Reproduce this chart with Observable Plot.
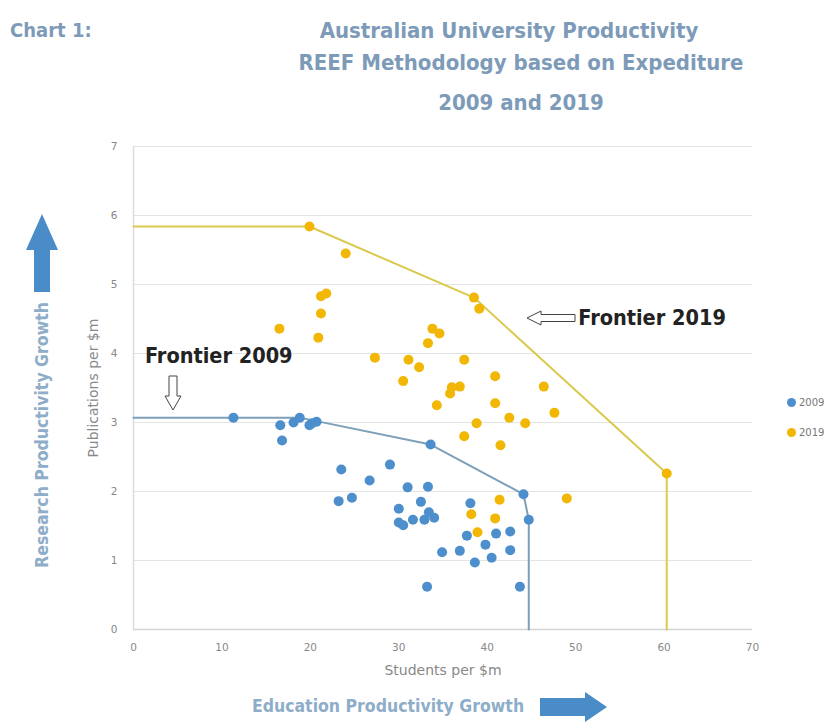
<!DOCTYPE html>
<html>
<head>
<meta charset="utf-8">
<script src="https://cdn.jsdelivr.net/npm/d3@7"></script>
<script src="https://cdn.jsdelivr.net/npm/@observablehq/plot@0.6"></script>
<style>
  html, body { margin: 0; padding: 0; background: #fff; }
  #wrap { position: relative; width: 824px; height: 722px; overflow: hidden; font-family: "DejaVu Sans Condensed", "DejaVu Sans", sans-serif; }
  #chart { position: absolute; left: 0; top: 0; }
  .t { position: absolute; font-weight: bold; color: #7d9bb8; white-space: nowrap; }
  .leg { position: absolute; font-family: "DejaVu Sans", sans-serif; font-size: 10px; color: #777; white-space: nowrap; }
  .leg span { display: inline-block; width: 9px; height: 9px; border-radius: 50%; margin-right: 3px; vertical-align: -1px; }
  svg.deco { position: absolute; overflow: visible; }
</style>
</head>
<body>
<div id="wrap">
  <div id="chart"></div>
  <div class="t" style="left:10px; top:18px; font-size:20px;">Chart 1:</div>
  <div class="t" style="left:509px; top:30px; font-size:22px; transform: translate(-50%,-50%);">Australian University Productivity</div>
  <div class="t" style="left:521px; top:62px; font-size:22px; transform: translate(-50%,-50%);">REEF Methodology based on Expediture</div>
  <div class="t" style="left:521px; top:102px; font-size:22px; transform: translate(-50%,-50%);">2009 and 2019</div>
  <div class="t" style="left:42px; top:435px; font-size:17.5px; color:#8eadc9; transform: translate(-50%,-50%) rotate(-90deg);">Research Productivity Growth</div>
  <div class="t" style="left:388px; top:706px; font-size:17.5px; color:#8eadc9; transform: translate(-50%,-50%);">Education Productivity Growth</div>
  <svg class="deco" style="left:0; top:0;" width="824" height="722">
    <polygon points="42,214 58,250 50,250 50,292 34,292 34,250 26,250" fill="#4a8cc8"/>
    <polygon points="607,707 585,692 585,698 540,698 540,716 585,716 585,722" fill="#4a8cc8"/>
    <polygon points="527,318 541,311 541,314.5 575,314.5 575,321.5 541,321.5 541,325" fill="#fff" stroke="#444" stroke-width="1"/>
    <polygon points="173,410 165,396 169,396 169,376 177,376 177,396 181,396" fill="#fff" stroke="#444" stroke-width="1"/>
  </svg>
  <div class="leg" style="left:787px; top:397px;"><span style="background:#4d8fcc"></span>2009</div>
  <div class="leg" style="left:787px; top:427px;"><span style="background:#f2b705"></span>2019</div>
</div>
<script>
// 2009 universities
const x09 = [11.3,16.6,16.8,18.1,18.8,19.9,20.2,20.7,23.5,26.7,23.2,24.7,29.0,31.0,33.3,30.0,32.5,30.0,30.5,31.6,32.9,33.4,34.0,33.2,33.6,38.1,37.7,39.8,41.0,42.6,42.6,34.9,36.9,38.6,40.5,43.7,44.1,44.7];
const y09 = [3.07,2.96,2.74,3.00,3.07,2.96,2.99,3.01,2.32,2.16,1.86,1.91,2.39,2.06,2.07,1.75,1.85,1.55,1.51,1.59,1.59,1.70,1.62,0.62,2.68,1.83,1.36,1.23,1.39,1.42,1.15,1.12,1.14,0.97,1.04,0.62,1.96,1.59];
// 2019 universities
const x19 = [19.9,24.0,16.5,21.2,21.8,21.2,20.9,27.3,31.1,32.3,33.3,33.8,34.6,38.5,39.1,37.4,30.5,36.0,36.9,35.8,40.9,34.3,40.9,46.4,42.5,44.3,47.6,38.8,37.4,41.5,60.3,49.0,41.4,38.2,40.9,38.9];
const y19 = [5.84,5.45,4.36,4.83,4.87,4.58,4.23,3.94,3.91,3.80,4.15,4.36,4.29,4.81,4.65,3.91,3.60,3.51,3.52,3.42,3.67,3.25,3.28,3.52,3.07,2.99,3.14,2.99,2.80,2.67,2.26,1.90,1.88,1.67,1.61,1.41];
// frontiers
const fx09 = [0,11.3,18.8,20.7,33.6,44.1,44.7,44.7];
const fy09 = [3.07,3.07,3.07,3.02,2.68,1.96,1.59,0];
const fx19 = [0,19.9,38.5,60.3,60.3];
const fy19 = [5.84,5.84,4.81,2.26,0];
// ticks
const xTicks = [0,10,20,30,40,50,60,70];
const yTicks = [0,1,2,3,4,5,6,7];
// annotations
const notes = [{x: 50.3, y: 4.52, label: "Frontier 2019"}, {x: 1.3, y: 3.96, label: "Frontier 2009"}];

const d09 = x09.map((x, i) => ({x, y: y09[i]}));
const d19 = x19.map((x, i) => ({x, y: y19[i]}));
const f09 = fx09.map((x, i) => ({x, y: fy09[i]}));
const f19 = fx19.map((x, i) => ({x, y: fy19[i]}));

const chart = Plot.plot({
  width: 824,
  height: 722,
  marginLeft: 133,
  marginRight: 72,
  marginTop: 146,
  marginBottom: 93,
  style: {fontFamily: "DejaVu Sans, sans-serif", fontSize: "10px", color: "#888", background: "transparent"},
  x: {domain: [0, 70], ticks: xTicks},
  y: {domain: [0, 7], ticks: yTicks},
  marks: [
    Plot.gridY(yTicks.filter(d => d > 0), {stroke: "#e4e4e4", strokeOpacity: 1, strokeWidth: 1.2}),
    Plot.ruleY([0], {stroke: "#d4d4d4", strokeWidth: 1.5}),
    Plot.ruleX([0], {stroke: "#dcdcdc", strokeWidth: 1.5}),
    Plot.axisX(xTicks, {tickSize: 0, tickPadding: 14, fill: "#888", fontSize: 10.5, tickFormat: d => String(d), label: null}),
    Plot.axisY(yTicks, {tickSize: 0, tickPadding: 16, fill: "#888", fontSize: 10.5, tickFormat: d => String(d), label: null}),
    Plot.text(["Students per $m"], {frameAnchor: "bottom", dy: 45, fill: "#888", fontSize: 14}),
    Plot.text(["Publications per $m"], {frameAnchor: "left", textAnchor: "middle", dx: -40, rotate: -90, fill: "#888", fontSize: 14}),
    Plot.line(f09, {x: "x", y: "y", stroke: "#7d9fb8", strokeWidth: 2}),
    Plot.line(f19, {x: "x", y: "y", stroke: "#d9c94c", strokeWidth: 2}),
    Plot.dot(d09, {x: "x", y: "y", r: 5, fill: "#4d8fcc"}),
    Plot.dot(d19, {x: "x", y: "y", r: 5, fill: "#f2b705"}),
    Plot.text(notes, {x: "x", y: "y", text: "label", textAnchor: "start", fill: "#222", fontSize: 21.5, fontWeight: "bold", fontFamily: "DejaVu Sans Condensed, DejaVu Sans, sans-serif"})
  ]
});
document.getElementById("chart").appendChild(chart);
</script>
</body>
</html>
